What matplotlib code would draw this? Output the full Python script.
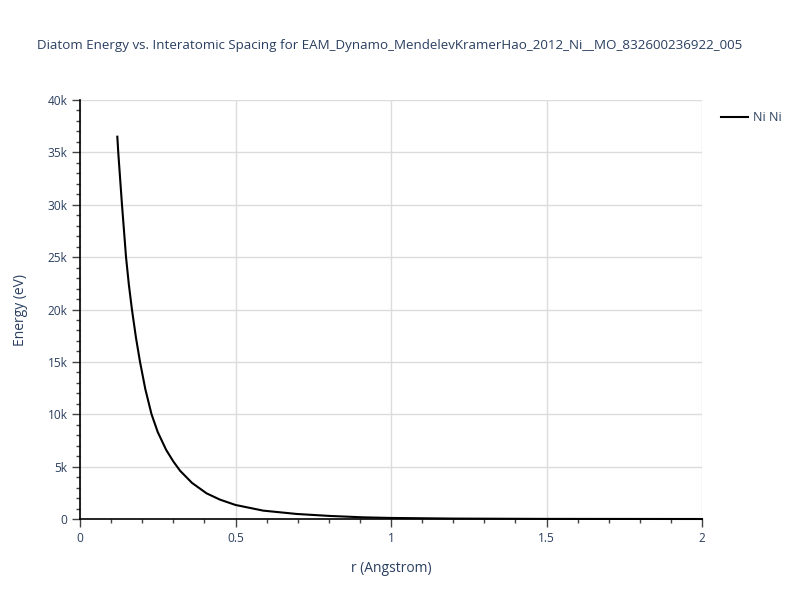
import matplotlib
matplotlib.use("Agg")
import matplotlib.pyplot as plt
from matplotlib.ticker import MultipleLocator, FuncFormatter

# values
r = [0.12, 0.123, 0.135, 0.148, 0.157, 0.167, 0.18, 0.193, 0.21, 0.23, 0.25,
     0.277, 0.30, 0.322, 0.36, 0.407, 0.45, 0.5, 0.589, 0.697, 0.804, 0.91,
     1.0, 1.2, 1.5, 2.0]
energy = [36500, 35000, 30000, 25000, 22400, 20000, 17300, 15000, 12400, 10000, 8300,
          6600, 5500, 4600, 3450, 2450, 1850, 1340, 800, 480, 290, 160,
          100, 40, 10, 0]

TXT = "#2a3f5f"
plt.rcParams["font.family"] = ["Open Sans", "DejaVu Sans"]

fig = plt.figure(figsize=(8, 6), dpi=100)
ax = fig.add_axes([0.1, 0.135, 0.7775, 0.6983])

ax.plot(r, energy, color="black", lw=1.5, label="Ni Ni", clip_on=False, zorder=3)

ax.set_xlim(0, 2)
ax.set_ylim(0, 40000)
ax.xaxis.set_major_locator(MultipleLocator(0.5))
ax.xaxis.set_minor_locator(MultipleLocator(0.1))
ax.yaxis.set_major_locator(MultipleLocator(5000))
ax.yaxis.set_minor_locator(MultipleLocator(1000))

ax.xaxis.set_major_formatter(FuncFormatter(lambda v, p: "%g" % v))
ax.yaxis.set_major_formatter(FuncFormatter(lambda v, p: "0" if v == 0 else "%gk" % (v / 1000)))

ax.grid(True, which="major", color="#dcdcdc", lw=1)
ax.set_axisbelow(True)
for s in ["top", "right"]:
    ax.spines[s].set_visible(False)
for s in ["left", "bottom"]:
    ax.spines[s].set_color("black")
    ax.spines[s].set_linewidth(1.2)

ax.tick_params(which="major", direction="out", length=6, width=1, color="#444444",
               labelcolor=TXT, labelsize=8.6, pad=3)
ax.tick_params(which="minor", direction="out", length=3, width=1, color="#444444")

ax.set_xlabel("r (Angstrom)", color=TXT, fontsize=10, labelpad=12)
ax.set_ylabel("Energy (eV)", color=TXT, fontsize=10, labelpad=14)

fig.text(0.4875, 0.925, "Diatom Energy vs. Interatomic Spacing for EAM_Dynamo_MendelevKramerHao_2012_Ni__MO_832600236922_005",
         ha="center", va="center", color=TXT, fontsize=9.6)

ax.legend(loc="upper left", bbox_to_anchor=(1.012, 1.0), frameon=False,
          handlelength=2.2, handletextpad=0.4, fontsize=9, labelcolor=TXT)

fig.savefig("out.png", dpi=100)
